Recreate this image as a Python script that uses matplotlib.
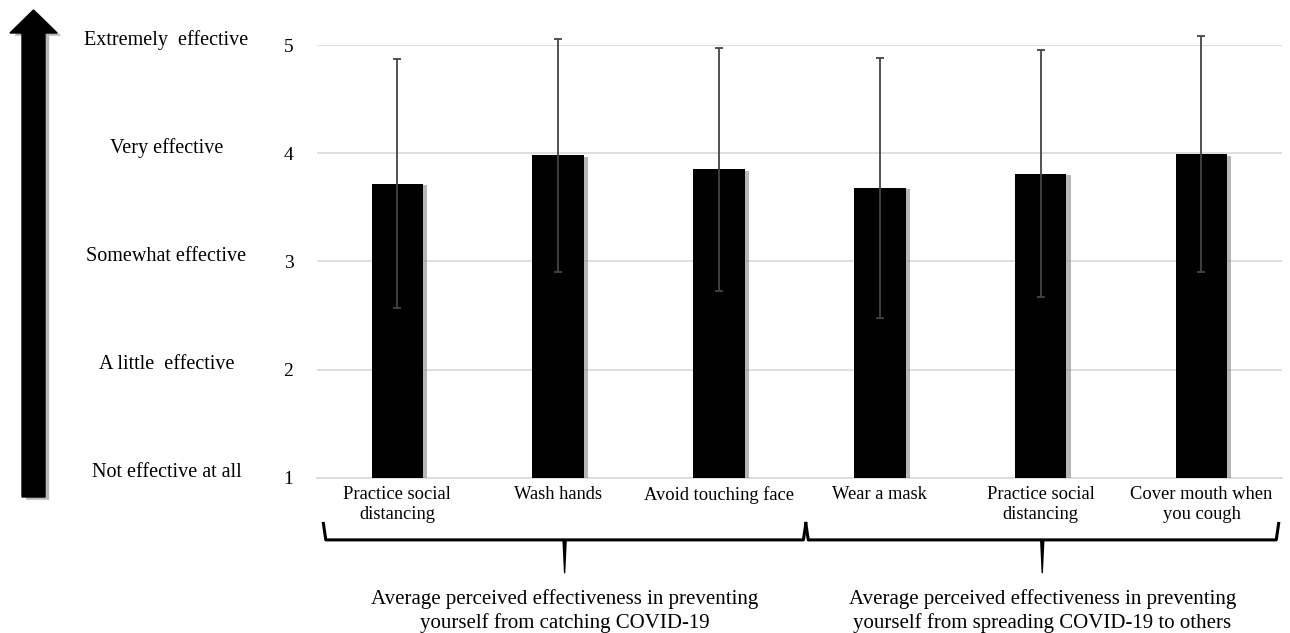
import numpy as np
import matplotlib
matplotlib.use('Agg')
import matplotlib.pyplot as plt
import matplotlib.patheffects as pe
from matplotlib.patches import FancyArrow
import matplotlib.transforms as mtransforms

# datos
acciones = ['Practice social\ndistancing', 'Wash hands', 'Avoid touching face',
            'Wear a mask', 'Practice social\ndistancing', 'Cover mouth when\nyou cough']
medias = [3.72, 3.98, 3.85, 3.68, 3.81, 3.99]
desv = [1.15, 1.08, 1.12, 1.20, 1.14, 1.09]
niveles = [1, 2, 3, 4, 5]
nombresNiveles = ['Not effective at all', 'A little  effective', 'Somewhat effective',
                  'Very effective', 'Extremely  effective']
grupos = ['Average perceived effectiveness in preventing\nyourself from catching COVID-19',
          'Average perceived effectiveness in preventing\nyourself from spreading COVID-19 to others']
tamGrupos = [3, 3]

plt.rcParams['font.family'] = ['Liberation Serif', 'DejaVu Serif']

fig = plt.figure(figsize=(12.9, 6.33), dpi=100)
ax = fig.add_axes([0.2457, 0.2449, 0.748, 0.684])

x = np.arange(len(acciones))
barras = ax.bar(x, [m - 1 for m in medias], bottom=1, width=0.32, color='black', zorder=3)
for b in barras:
    b.set_path_effects([pe.SimplePatchShadow(offset=(3, -1), shadow_rgbFace='#888888', alpha=0.6),
                        pe.Normal()])
ax.errorbar(x, medias, yerr=desv, fmt='none', ecolor='#444444', elinewidth=1.3,
            capsize=3, capthick=1.3, zorder=4, clip_on=False)

ax.set_xlim(-0.5, len(acciones) - 0.5)
ax.set_ylim(1, 5)
ax.set_yticks(niveles)
ax.set_yticklabels([str(n) for n in niveles], fontsize=14)
ax.set_xticks(x)
ax.set_xticklabels(acciones, fontsize=13.3, linespacing=1.2)
ax.tick_params(axis='both', length=0)
ax.tick_params(axis='x', pad=6)
ax.tick_params(axis='y', pad=17)
ax.grid(axis='y', color='#d9d9d9', linewidth=1.2, zorder=0)
for s in ['top', 'right', 'left']:
    ax.spines[s].set_visible(False)
ax.spines['bottom'].set_color('#d9d9d9')
ax.spines['bottom'].set_linewidth(1.2)

# etiquetas de niveles
trans = mtransforms.blended_transform_factory(fig.transFigure, ax.transData)
for n, nom in zip(niveles, nombresNiveles):
    ax.text(0.129, n + 0.05, nom, transform=trans, ha='center', va='center', fontsize=14.5)

# llaves de los grupos
tb = ax.get_xaxis_transform()
inicio = -0.46
for g, (nombre, tam) in enumerate(zip(grupos, tamGrupos)):
    fin = min(inicio + tam, len(acciones) - 0.52)
    centro = (inicio + fin) / 2
    ax.plot([inicio, inicio + 0.015, fin - 0.015, fin], [-0.105, -0.143, -0.143, -0.105],
            transform=tb, color='black', lw=2.2, clip_on=False, solid_joinstyle='round')
    ax.fill([centro - 0.014, centro + 0.014, centro + 0.004, centro - 0.004],
            [-0.143, -0.143, -0.22, -0.22], transform=tb, color='black', clip_on=False, lw=0)
    ax.text(centro, -0.307, nombre, transform=tb, ha='center', va='center', fontsize=15,
            linespacing=1.25)
    inicio = fin

# flecha
ov = fig.add_axes([0, 0, 1, 1], zorder=-1)
ov.set_xlim(0, 1290)
ov.set_ylim(633, 0)
ov.axis('off')
flecha = FancyArrow(33.5, 497, 0, -487, width=23, head_width=47, head_length=23,
                    length_includes_head=True, color='black')
flecha.set_path_effects([pe.SimplePatchShadow(offset=(3, -2), shadow_rgbFace='#888888', alpha=0.6),
                         pe.Normal()])
ov.add_patch(flecha)

fig.savefig('out.png', dpi=100)
